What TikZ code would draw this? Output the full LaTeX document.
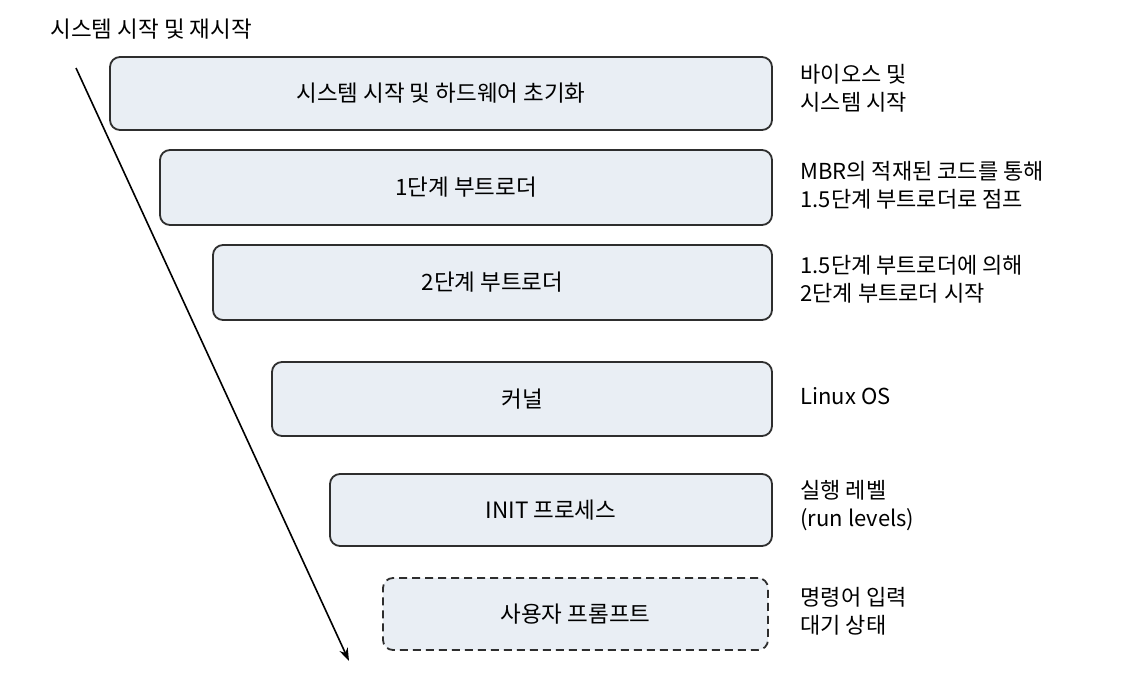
\documentclass[tikz,border=0pt]{standalone}
\usepackage{fontspec}
\setmainfont{Noto Sans CJK KR}
\usetikzlibrary{arrows.meta}
\definecolor{boxfill}{HTML}{E9EEF4}
\definecolor{boxline}{HTML}{2E2E2E}
\tikzset{
    ST/.style ={rectangle,rounded corners=10pt,draw=boxline,line width=1.8pt,fill=boxfill,font=\fontsize{22.5}{28}\selectfont},
    ST2/.style ={ST,dash pattern=on 8pt off 5pt},
    NT/.style ={anchor=west,align=left,font=\fontsize{22}{28}\selectfont}}

\begin{document}
\begin{tikzpicture}[x=1pt,y=-1pt]
        \useasboundingbox (0,0) rectangle (1124,688);
        \node[anchor=west,font=\fontsize{22.5}{28}\selectfont] (title) at(47,29){시스템 시작 및 재시작};
        \node[ST,minimum width=662pt,minimum height=73pt] (1) at(441,93.5){시스템 시작 및 하드웨어 초기화};
        \node[ST,minimum width=612pt,minimum height=75pt] (2) at(466,187.5){1단계 부트로더};
        \node[ST,minimum width=559pt,minimum height=75pt] (3) at(492.5,282.5){2단계 부트로더};
        \node[ST,minimum width=500pt,minimum height=74pt] (4) at(522,399){커널};
        \node[ST,minimum width=442pt,minimum height=72pt] (5) at(551,510){INIT 프로세스};
        \node[ST2,minimum width=385pt,minimum height=72pt] (6) at(575.5,614){사용자 프롬프트};
        \node[NT] (a) at(797,88){바이오스 및\\시스템 시작};
        \node[NT] (b) at(797,185){MBR의 적재된 코드를 통해\\1.5단계 부트로더로 점프};
        \node[NT] (c) at(797,279){1.5단계 부트로더에 의해\\2단계 부트로더 시작};
        \node[NT] (d) at(797,396){Linux OS};
        \node[NT] (e) at(797,506){실행 레벨\\(run levels)};
        \node[NT] (f) at(797,611){명령어 입력\\대기 상태};
        \coordinate (s) at(76,68);
        \coordinate (t) at(349,661);
        \draw[line width=1.6pt,-{Stealth[length=13pt,width=9pt]}] (s)--(t);
    \end{tikzpicture}
\end{document}
